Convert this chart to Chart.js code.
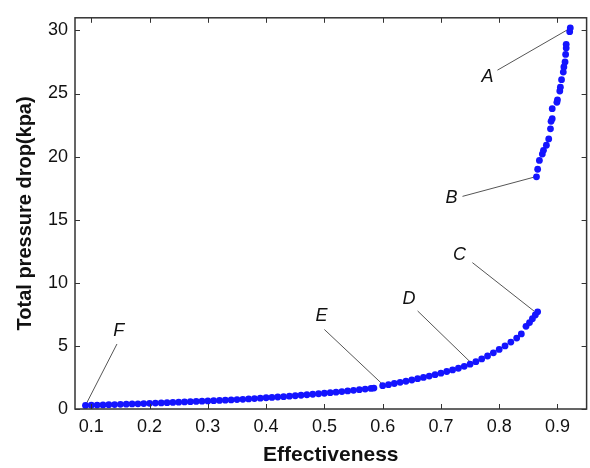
<!DOCTYPE html>
<html>
<head>
<meta charset="utf-8">
<script src="https://cdn.jsdelivr.net/npm/chart.js@4"></script>
<style>
html,body{margin:0;padding:0;background:#fff;}
#wrap{width:590px;height:468px;position:relative;}
</style>
</head>
<body>
<div id="wrap"><canvas id="c" width="590" height="468"></canvas></div>
<script>
// ---- data ----
const lowX = [0.09,0.10,0.11,0.12,0.13,0.14,0.15,0.16,0.17,0.18,0.19,0.20,0.21,0.22,0.23,0.24,0.25,0.26,0.27,0.28,0.29,0.30,0.31,0.32,0.33,0.34,0.35,0.36,0.37,0.38,0.39,0.40,0.41,0.42,0.43,0.44,0.45,0.46,0.47,0.48,0.49,0.50,0.51,0.52,0.53,0.54,0.55,0.56,0.57,0.58,0.585];
const lowY = [0.28,0.30,0.31,0.32,0.34,0.35,0.37,0.38,0.40,0.41,0.43,0.45,0.47,0.48,0.50,0.52,0.54,0.56,0.58,0.60,0.62,0.64,0.66,0.68,0.70,0.72,0.75,0.77,0.80,0.83,0.86,0.89,0.92,0.95,0.98,1.02,1.05,1.09,1.13,1.17,1.21,1.25,1.29,1.33,1.38,1.43,1.48,1.53,1.58,1.63,1.66];
const midX = [0.600,0.61,0.62,0.63,0.64,0.65,0.66,0.67,0.68,0.69,0.70,0.71,0.72,0.73,0.74,0.75,0.76,0.77,0.78,0.79,0.80,0.81,0.82,0.83,0.838,0.846,0.852,0.857,0.862,0.866];
const midY = [1.85,1.93,2.02,2.11,2.20,2.30,2.40,2.50,2.61,2.72,2.84,2.97,3.10,3.23,3.38,3.55,3.75,3.97,4.20,4.45,4.72,5.00,5.30,5.62,5.95,6.55,6.85,7.15,7.45,7.70];
const highX = [0.864,0.866,0.869,0.874,0.876,0.881,0.885,0.888,0.889,0.891,0.891,0.899,0.900,0.904,0.905,0.907,0.910,0.911,0.913,0.914,0.915,0.915,0.921,0.922];
const highY = [18.4,19.0,19.7,20.2,20.5,20.9,21.4,22.2,22.8,23.0,23.8,24.3,24.5,25.2,25.5,26.1,26.7,27.1,27.5,28.1,28.6,28.9,29.9,30.2];

const xTicks = [0.1,0.2,0.3,0.4,0.5,0.6,0.7,0.8,0.9];
const xTickLabels = ['0.1','0.2','0.3','0.4','0.5','0.6','0.7','0.8','0.9'];
const yTicks = [0,5,10,15,20,25,30];
const yTickLabels = ['0','5','10','15','20','25','30'];

// annotations: label, label position, line start, line end (data units)
const annLabels = ['A','B','C','D','E','F'];
const annLabelX = [0.780,0.718,0.732,0.645,0.495,0.147];
const annLabelY = [26.3,16.7,12.2,8.7,7.4,6.2];
const annStartX = [0.797,0.737,0.754,0.660,0.500,0.144];
const annStartY = [26.85,16.85,11.6,7.77,6.3,5.15];
const annEndX = [0.919,0.862,0.860,0.754,0.600,0.089];
const annEndY = [30.1,18.4,7.75,3.56,1.95,0.2];

const pts = [];
[[lowX,lowY],[midX,midY],[highX,highY]].forEach(([xs,ys])=>{
  xs.forEach((v,i)=>pts.push({x:v,y:ys[i]}));
});

const FONT = '"Liberation Sans", Arial, sans-serif';

const framePlugin = {
  id:'frame',
  beforeDatasetsDraw(chart){
    const {ctx, scales:{x,y}} = chart;
    ctx.save();
    ctx.strokeStyle = '#555';
    ctx.lineWidth = 1;
    ctx.fillStyle = '#111';
    ctx.font = 'italic 18px ' + FONT;
    ctx.textAlign = 'center';
    ctx.textBaseline = 'middle';
    annLabels.forEach((t,i)=>{
      ctx.beginPath();
      ctx.moveTo(x.getPixelForValue(annStartX[i]), y.getPixelForValue(annStartY[i]));
      ctx.lineTo(x.getPixelForValue(annEndX[i]), y.getPixelForValue(annEndY[i]));
      ctx.stroke();
      ctx.fillText(t, x.getPixelForValue(annLabelX[i]), y.getPixelForValue(annLabelY[i]));
    });
    ctx.restore();
  },
  afterDraw(chart){
    const {ctx, chartArea:a, scales:{x,y}} = chart;
    ctx.save();
    ctx.strokeStyle = '#333';
    ctx.lineWidth = 1.5;
    ctx.strokeRect(a.left, a.top, a.right-a.left, a.bottom-a.top);
    ctx.lineWidth = 1;
    ctx.beginPath();
    const L = 5;
    xTicks.forEach(v=>{
      const px = Math.round(x.getPixelForValue(v))+0.5;
      ctx.moveTo(px, a.bottom); ctx.lineTo(px, a.bottom-L);
      ctx.moveTo(px, a.top); ctx.lineTo(px, a.top+L);
    });
    yTicks.forEach(v=>{
      const py = Math.round(y.getPixelForValue(v))+0.5;
      ctx.moveTo(a.left, py); ctx.lineTo(a.left+L, py);
      ctx.moveTo(a.right, py); ctx.lineTo(a.right-L, py);
    });
    ctx.stroke();
    ctx.restore();
  }
};

new Chart(document.getElementById('c'), {
  type:'scatter',
  data:{datasets:[{
    data: pts,
    backgroundColor:'#1414ff',
    borderColor:'#1414ff',
    borderWidth:0,
    pointRadius:3.4,
    pointHoverRadius:3.4,
    showLine:false
  }]},
  options:{
    responsive:false,
    animation:false,
    layout:{padding:{top:6,right:3,left:0,bottom:0}},
    plugins:{legend:{display:false},tooltip:{enabled:false}},
    scales:{
      x:{
        type:'linear', min:0.072, max:0.95,
        afterBuildTicks(s){ s.ticks = xTicks.map(v=>({value:v})); },
        afterFit(s){ s.height = 59; },
        grid:{display:false, drawTicks:false},
        border:{display:false},
        ticks:{
          padding:7, color:'#111', font:{family:FONT,size:18},
          callback:(v)=>{ const i = xTicks.findIndex(t=>Math.abs(t-v)<1e-9); return i>=0 ? xTickLabels[i] : ''; },
          maxRotation:0, autoSkip:false
        },
        title:{display:true,text:'Effectiveness',color:'#111',
          font:{family:FONT,size:21,weight:'bold',lineHeight:1.2},padding:{top:0,bottom:0}}
      },
      y:{
        type:'linear', min:0, max:31,
        afterBuildTicks(s){ s.ticks = yTicks.map(v=>({value:v})); },
        afterFit(s){ s.width = 75; },
        grid:{display:false, drawTicks:false},
        border:{display:false},
        ticks:{
          padding:7, color:'#111', font:{family:FONT,size:18},
          callback:(v)=>{ const i = yTicks.indexOf(v); return i>=0 ? yTickLabels[i] : ''; },
          autoSkip:false
        },
        title:{display:true,text:'Total pressure drop(kpa)',color:'#111',
          font:{family:FONT,size:20,weight:'bold',lineHeight:1.2},padding:{top:13,bottom:0}}
      }
    }
  },
  plugins:[framePlugin]
});
</script>
</body>
</html>
